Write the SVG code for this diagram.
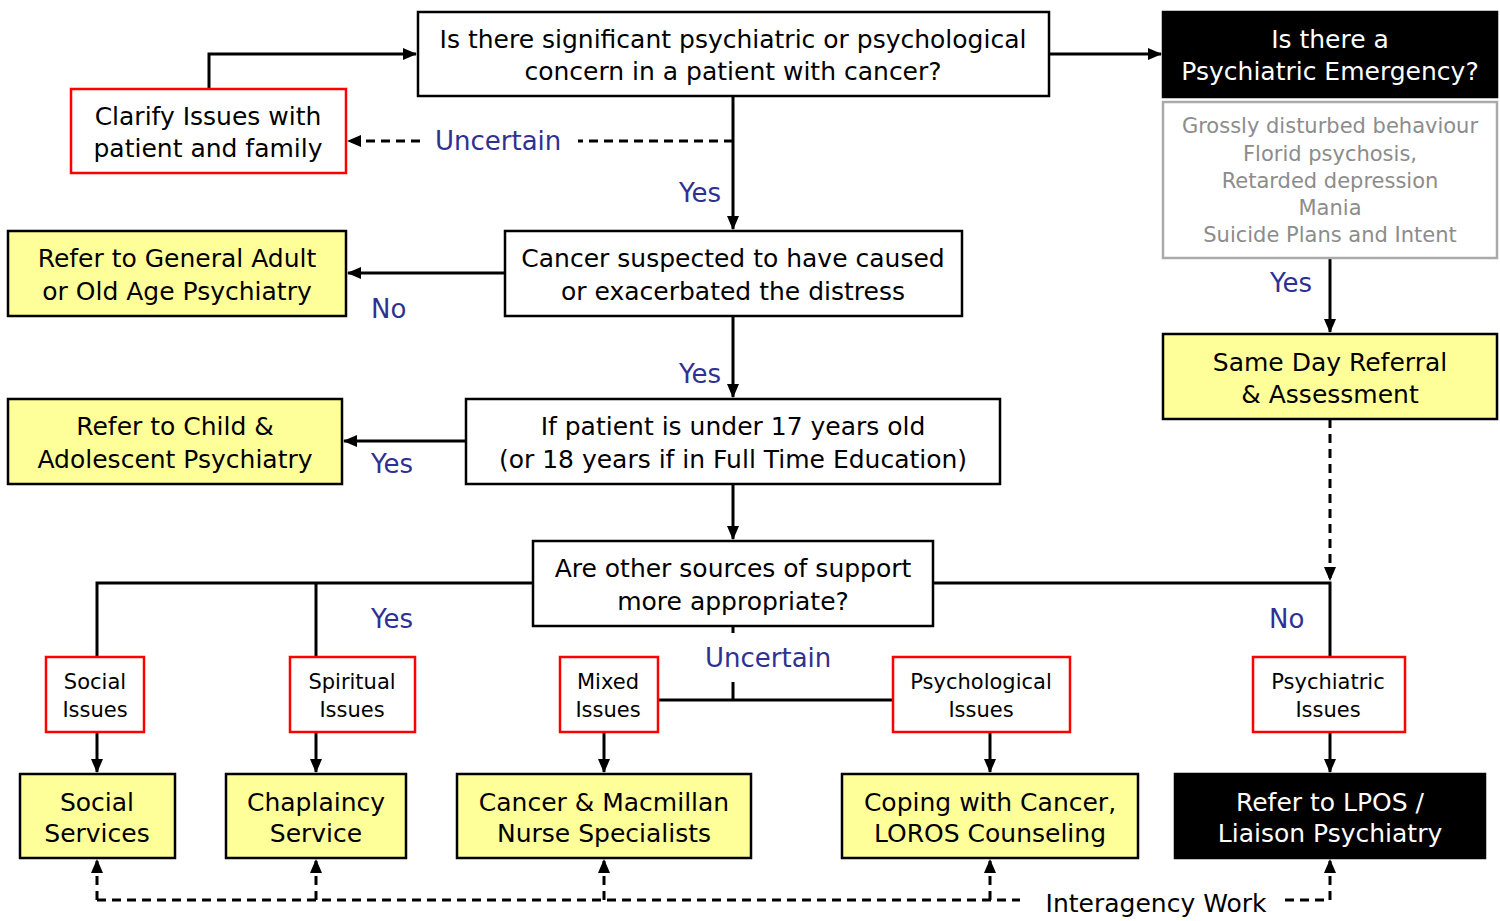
<svg xmlns="http://www.w3.org/2000/svg" width="1500" height="921" viewBox="0 0 1500 921">
<style>
text{font-family:"DejaVu Sans",Verdana,sans-serif;text-anchor:middle}
.t{font-size:25px;fill:#000}
.w{font-size:25px;fill:#fff}
.s{font-size:21px;fill:#000}
.g{font-size:21px;fill:#8c8c8c}
.b{font-size:26px;fill:#2e3192;text-anchor:start}
.box{fill:#fff;stroke:#000;stroke-width:2.5}
.yel{fill:#ffff99;stroke:#000;stroke-width:2.5}
.blk{fill:#000;stroke:#000;stroke-width:2.5}
.red{fill:#fff;stroke:#ff0000;stroke-width:2.5}
.gry{fill:#fff;stroke:#aaaaaa;stroke-width:2.5}
.c{fill:none;stroke:#000;stroke-width:3}
.d{fill:none;stroke:#000;stroke-width:3;stroke-dasharray:9 6}
</style>
<defs>
<marker id="ah" markerUnits="userSpaceOnUse" markerWidth="14" markerHeight="14" viewBox="0 0 14 14" refX="13" refY="7" orient="auto">
<path d="M0,1 L14,7 L0,13 Z" fill="#000"/>
</marker>
</defs>
<rect width="1500" height="921" fill="#fff"/>
<g id="connectors">
<path class="c" d="M209,89 V54 H416" marker-end="url(#ah)"/>
<path class="c" d="M1049,54 H1161" marker-end="url(#ah)"/>
<path class="c" d="M733,96 V229" marker-end="url(#ah)"/>
<path class="d" d="M733,141 H578"/>
<path class="d" d="M420,141 H348" marker-end="url(#ah)"/>
<path class="c" d="M505,273 H348" marker-end="url(#ah)"/>
<path class="c" d="M733,316 V397" marker-end="url(#ah)"/>
<path class="c" d="M466,441 H344" marker-end="url(#ah)"/>
<path class="c" d="M733,484 V539" marker-end="url(#ah)"/>
<path class="c" d="M533,583 H97 V657 M316,583 V657"/>
<path class="c" d="M933,583 H1330 V657"/>
<path class="c" d="M1330,258 V332" marker-end="url(#ah)"/>
<path class="d" d="M1330,419 V580" marker-end="url(#ah)"/>
<path class="c" d="M733,626 V633 M733,682 V700 M658,700 H893"/>
<path class="c" d="M97,732 V772" marker-end="url(#ah)"/>
<path class="c" d="M316,732 V772" marker-end="url(#ah)"/>
<path class="c" d="M604,732 V772" marker-end="url(#ah)"/>
<path class="c" d="M990,732 V772" marker-end="url(#ah)"/>
<path class="c" d="M1330,732 V772" marker-end="url(#ah)"/>
<path class="d" d="M97,900 H1020 M1285,900 H1330"/>
<path class="d" d="M97,900 V860" marker-end="url(#ah)"/>
<path class="d" d="M316,900 V860" marker-end="url(#ah)"/>
<path class="d" d="M604,900 V860" marker-end="url(#ah)"/>
<path class="d" d="M990,900 V860" marker-end="url(#ah)"/>
<path class="d" d="M1330,900 V860" marker-end="url(#ah)"/>
</g>
<g id="labels">
<text class="b" x="435" y="150">Uncertain</text>
<text class="b" x="679" y="202">Yes</text>
<text class="b" x="371" y="318">No</text>
<text class="b" x="679" y="383">Yes</text>
<text class="b" x="371" y="473">Yes</text>
<text class="b" x="371" y="628">Yes</text>
<text class="b" x="1269" y="628">No</text>
<text class="b" x="705" y="667">Uncertain</text>
<text class="b" x="1270" y="292">Yes</text>
<text class="t" x="1156" y="912">Interagency Work</text>
</g>
<g id="n-concern">
<rect class="box" x="418" y="12" width="631" height="84"/>
<text class="t" x="733" y="48">Is there significant psychiatric or psychological</text>
<text class="t" x="733" y="80">concern in a patient with cancer?</text>
</g>
<g id="n-clarify">
<rect class="red" x="71" y="89" width="275" height="84"/>
<text class="t" x="208" y="125">Clarify Issues with</text>
<text class="t" x="208" y="157">patient and family</text>
</g>
<g id="n-emergency">
<rect class="blk" x="1163" y="12" width="334" height="85"/>
<text class="w" x="1330" y="48">Is there a</text>
<text class="w" x="1330" y="80">Psychiatric Emergency?</text>
</g>
<g id="n-criteria">
<rect class="gry" x="1163" y="102" width="334" height="156"/>
<text class="g" x="1330" y="133">Grossly disturbed behaviour</text>
<text class="g" x="1330" y="161">Florid psychosis,</text>
<text class="g" x="1330" y="188">Retarded depression</text>
<text class="g" x="1330" y="215">Mania</text>
<text class="g" x="1330" y="242">Suicide Plans and Intent</text>
</g>
<g id="n-sameday">
<rect class="yel" x="1163" y="334" width="334" height="85"/>
<text class="t" x="1330" y="371">Same Day Referral</text>
<text class="t" x="1330" y="403">&amp; Assessment</text>
</g>
<g id="n-cancer">
<rect class="box" x="505" y="231" width="457" height="85"/>
<text class="t" x="733" y="267">Cancer suspected to have caused</text>
<text class="t" x="733" y="300">or exacerbated the distress</text>
</g>
<g id="n-general">
<rect class="yel" x="8" y="231" width="338" height="85"/>
<text class="t" x="177" y="267">Refer to General Adult</text>
<text class="t" x="177" y="300">or Old Age Psychiatry</text>
</g>
<g id="n-under17">
<rect class="box" x="466" y="399" width="534" height="85"/>
<text class="t" x="733" y="435">If patient is under 17 years old</text>
<text class="t" x="733" y="468">(or 18 years if in Full Time Education)</text>
</g>
<g id="n-child">
<rect class="yel" x="8" y="399" width="334" height="85"/>
<text class="t" x="175" y="435">Refer to Child &amp;</text>
<text class="t" x="175" y="468">Adolescent Psychiatry</text>
</g>
<g id="n-other">
<rect class="box" x="533" y="541" width="400" height="85"/>
<text class="t" x="733" y="577">Are other sources of support</text>
<text class="t" x="733" y="610">more appropriate?</text>
</g>
<g id="n-social-issues">
<rect class="red" x="46" y="657" width="98" height="75"/>
<text class="s" x="95" y="689">Social</text>
<text class="s" x="95" y="717">Issues</text>
</g>
<g id="n-spiritual-issues">
<rect class="red" x="290" y="657" width="125" height="75"/>
<text class="s" x="352" y="689">Spiritual</text>
<text class="s" x="352" y="717">Issues</text>
</g>
<g id="n-mixed-issues">
<rect class="red" x="560" y="657" width="98" height="75"/>
<text class="s" x="608" y="689">Mixed</text>
<text class="s" x="608" y="717">Issues</text>
</g>
<g id="n-psychological-issues">
<rect class="red" x="893" y="657" width="177" height="75"/>
<text class="s" x="981" y="689">Psychological</text>
<text class="s" x="981" y="717">Issues</text>
</g>
<g id="n-psychiatric-issues">
<rect class="red" x="1253" y="657" width="152" height="75"/>
<text class="s" x="1328" y="689">Psychiatric</text>
<text class="s" x="1328" y="717">Issues</text>
</g>
<g id="n-social-services">
<rect class="yel" x="20" y="774" width="155" height="84"/>
<text class="t" x="97" y="811">Social</text>
<text class="t" x="97" y="842">Services</text>
</g>
<g id="n-chaplaincy">
<rect class="yel" x="226" y="774" width="180" height="84"/>
<text class="t" x="316" y="811">Chaplaincy</text>
<text class="t" x="316" y="842">Service</text>
</g>
<g id="n-nurse">
<rect class="yel" x="457" y="774" width="294" height="84"/>
<text class="t" x="604" y="811">Cancer &amp; Macmillan</text>
<text class="t" x="604" y="842">Nurse Specialists</text>
</g>
<g id="n-coping">
<rect class="yel" x="842" y="774" width="296" height="84"/>
<text class="t" x="990" y="811">Coping with Cancer,</text>
<text class="t" x="990" y="842">LOROS Counseling</text>
</g>
<g id="n-lpos">
<rect class="blk" x="1175" y="774" width="310" height="84"/>
<text class="w" x="1330" y="811">Refer to LPOS /</text>
<text class="w" x="1330" y="842">Liaison Psychiatry</text>
</g>
</svg>
